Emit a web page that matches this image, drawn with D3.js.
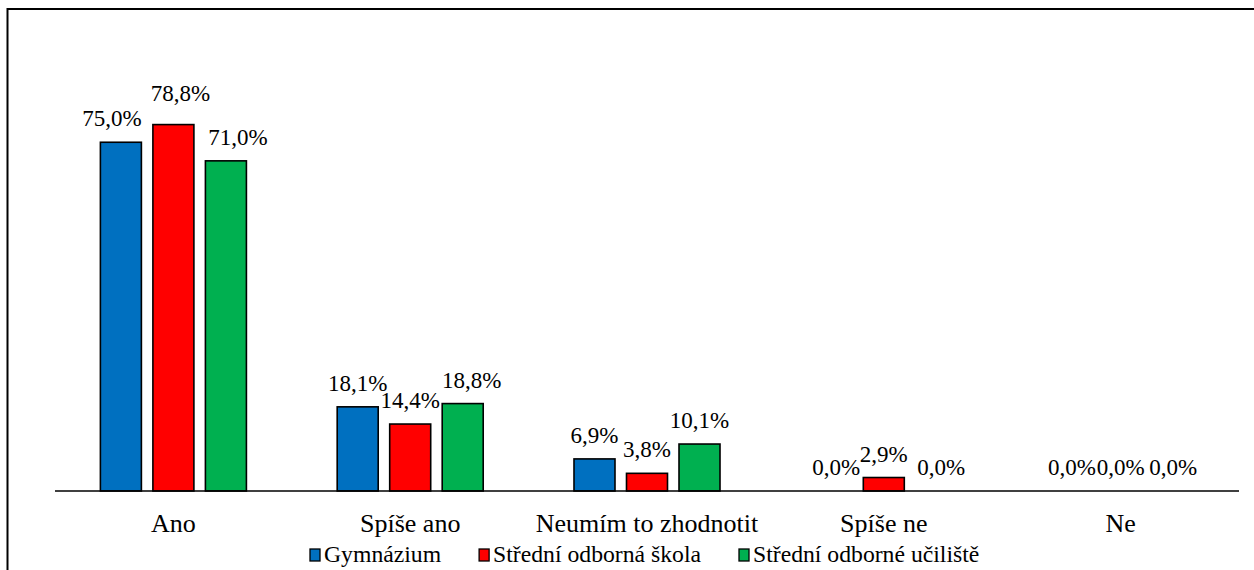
<!DOCTYPE html>
<html>
<head>
<meta charset="utf-8">
<script src="https://cdn.jsdelivr.net/npm/d3@7"></script>
<style>
  body { margin: 0; background: #fff; font-family: "Times New Roman", "Liberation Serif", serif; }
  #chart svg, #chart svg text { font-family: "Times New Roman", "Liberation Serif", serif; }
</style>
</head>
<body>
<div id="chart"></div>
<script>
(function(d3){

    // kategorie odpovedi
    var categories = ["Ano", "Spíše ano", "Neumím to zhodnotit", "Spíše ne", "Ne"];
    // typy skol (serie)
    var series = ["Gymnázium", "Střední odborná škola", "Střední odborné učiliště"];
    var gymnazium = [75.0, 18.1, 6.9, 0.0, 0.0];
    var sos       = [78.8, 14.4, 3.8, 2.9, 0.0];
    var sou       = [71.0, 18.8, 10.1, 0.0, 0.0];
    var colors = ["#0070C0", "#FF0000", "#00B050"];

    // posun popisku (jako v Excelu, kde se popisky prekryvaly)
    var labelNudge = {
        "0-0": [-9, 0], "0-1": [7, -8], "0-2": [12, 0],
        "1-2": [9, 0], "3-0": [5, 0], "3-2": [5, 0], "4-0": [4, 0]
    };

    var W = 1254, H = 570;
    var svg = d3.select("#chart").append("svg")
            .attr("width", W)
            .attr("height", H);

    // ramecek grafu
    svg.append("rect")
            .attr("x", 7.5).attr("y", 9)
            .attr("width", 1270).attr("height", 620)
            .attr("fill", "none")
            .attr("stroke", "#000")
            .attr("stroke-width", 2);

    var x0 = d3.scaleBand().domain(categories).range([55, 1239]);
    var x1 = d3.scaleBand().domain(series).range([0, x0.bandwidth()])
            .paddingInner(0.2).paddingOuter(0.855);
    var y = d3.scaleLinear().domain([0, 100]).range([491, 26]);

    var rows = categories.map(function(c, i){
        return { cat: c, i: i, vals: [gymnazium[i], sos[i], sou[i]] };
    });

    var g = svg.selectAll("g.cat").data(rows).enter().append("g")
            .attr("class", "cat")
            .attr("transform", function(d){ return "translate(" + x0(d.cat) + ",0)"; });

    g.selectAll("rect").data(function(d){
        return d.vals.map(function(v, j){ return { v: v, j: j, i: d.i }; });
    }).enter().append("rect")
            .filter(function(d){ return d.v > 0; })
            .attr("x", function(d){ return x1(series[d.j]) + 0.5; })
            .attr("y", function(d){ return y(d.v); })
            .attr("width", x1.bandwidth() - 1)
            .attr("height", function(d){ return y(0) - y(d.v); })
            .style("fill", function(d){ return colors[d.j]; })
            .style("stroke", "#000")
            .style("stroke-width", 1.6);

    g.selectAll("text.lbl").data(function(d){
        return d.vals.map(function(v, j){ return { v: v, j: j, i: d.i }; });
    }).enter().append("text")
            .attr("class", "lbl")
            .attr("x", function(d){
                var n = labelNudge[d.i + "-" + d.j] || [0, 0];
                return x1(series[d.j]) + x1.bandwidth() / 2 + n[0];
            })
            .attr("y", function(d){
                var n = labelNudge[d.i + "-" + d.j] || [0, 0];
                return y(d.v) - 16 + n[1];
            })
            .attr("text-anchor", "middle")
            .attr("font-size", 23)
            .text(function(d){ return d.v.toFixed(1).replace(".", ",") + "%"; });

    // osa x
    svg.append("line")
            .attr("x1", 55).attr("x2", 1239)
            .attr("y1", y(0)).attr("y2", y(0))
            .attr("stroke", "#000")
            .attr("stroke-width", 1.6);

    svg.selectAll("text.cat").data(categories).enter().append("text")
            .attr("class", "cat")
            .attr("x", function(d){ return x0(d) + x0.bandwidth() / 2; })
            .attr("y", 532)
            .attr("text-anchor", "middle")
            .attr("font-size", 26)
            .text(function(d){ return d; });

    // legenda
    var legend = svg.append("g");
    var lx = 310;
    series.forEach(function(s, j){
        legend.append("rect")
                .attr("x", lx).attr("y", 549)
                .attr("width", 10).attr("height", 12)
                .style("fill", colors[j])
                .style("stroke", "#000")
                .style("stroke-width", 1.3);
        var t = legend.append("text")
                .attr("x", lx + 14).attr("y", 562)
                .attr("font-size", 23.7)
                .text(s);
        lx += 14 + t.node().getComputedTextLength() + 38;
    });

})(d3);
</script>
</body>
</html>
